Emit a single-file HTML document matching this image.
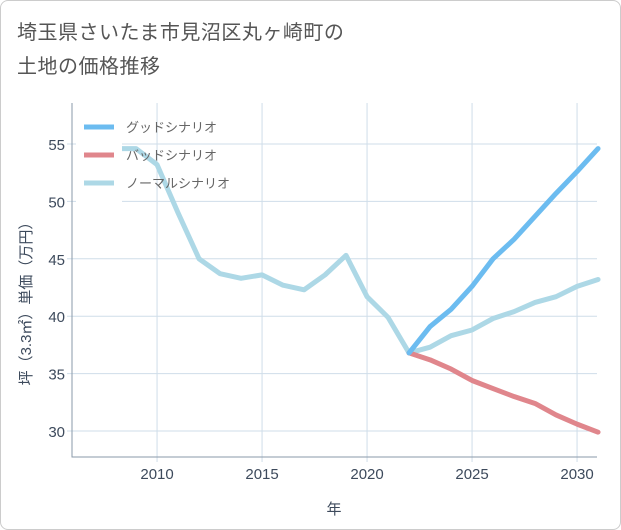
<!DOCTYPE html>
<html><head><meta charset="utf-8"><style>
body{margin:0;background:#fff;font-family:"Liberation Sans","Noto Sans CJK JP",sans-serif}
#frame{position:absolute;left:0;top:0;width:619px;height:528px;border:1px solid #ccc;border-radius:8px;background:#fff}
#title{position:absolute;left:17px;top:16px;font-size:20px;line-height:34px;color:#555;letter-spacing:0.5px}
</style></head><body>
<div id="frame"></div>
<div id="title">埼玉県さいたま市見沼区丸ヶ崎町の<br>土地の価格推移</div>
<svg id="chart" width="621" height="530" style="position:absolute;left:0;top:0"></svg>
<script>
const years=[2008,2009,2010,2011,2012,2013,2014,2015,2016,2017,2018,2019,2020,2021,2022,2023,2024,2025,2026,2027,2028,2029,2030,2031];
const normalVals=[54.6,54.6,53.2,49,45,43.7,43.3,43.6,42.7,42.3,43.6,45.3,41.7,39.9,36.8,37.3,38.3,38.8,39.8,40.4,41.2,41.7,42.6,43.2];
const futureYears=[2022,2023,2024,2025,2026,2027,2028,2029,2030,2031];
const goodVals=[36.8,39.1,40.6,42.6,45.0,46.7,48.7,50.7,52.6,54.6];
const badVals=[36.8,36.2,35.4,34.4,33.7,33.0,32.4,31.4,30.6,29.9];
const xTicks=[2010,2015,2020,2025,2030];
const yTicks=[30,35,40,45,50,55];
const legendLabels=["グッドシナリオ","バッドシナリオ","ノーマルシナリオ"];
const L=72,R=597,T=103,B=457;
const x=v=>L+(v-2005.95)*21;
const y=v=>144+(55-v)*11.48;
const svg=document.getElementById('chart');
const NS='http://www.w3.org/2000/svg';
const tickCol='#3d4a5c',gridCol='#cfdde9';
function mk(tag,attrs){const e=document.createElementNS(NS,tag);for(const k in attrs)e.setAttribute(k,attrs[k]);svg.appendChild(e);return e;}
xTicks.forEach(t=>{
 const g=mk('line',{x1:x(t),x2:x(t),y1:T,y2:B+5,stroke:gridCol,'stroke-width':1});
 
 
 const tx=mk('text',{x:x(t),y:479,'text-anchor':'middle','font-size':15,fill:tickCol});
 tx.textContent=t;
 
 
});
yTicks.forEach(t=>{
 const g=mk('line',{x1:L-5,x2:R,y1:y(t),y2:y(t),stroke:gridCol,'stroke-width':1});
 
 
 const tx=mk('text',{x:65,y:y(t)+6,'text-anchor':'end','font-size':15,fill:tickCol});
 tx.textContent=t;
 
 
});
const ax=mk('path',{d:`M${L} ${T}V${B}H${R}`,fill:'none',stroke:'#8a9aaa','stroke-width':1});


function line(xs,vs,color,name){
 const p=mk('polyline',{points:xs.map((v,i)=>x(v)+','+y(vs[i])).join(' '),fill:'none',stroke:color,'stroke-width':5,'stroke-linejoin':'round','stroke-linecap':'round'});
 
 
}
line(years,normalVals,'#add8e6','normal-line');
line(futureYears,badVals,'#e0868c','bad-line');
line(futureYears,goodVals,'#6cbcf0','good-line');
const lb=mk('rect',{x:76,y:110,width:46,height:94,fill:'#fff'});


const lc=['#6cbcf0','#e0868c','#add8e6'];
legendLabels.forEach((s,i)=>{
 const yy=127+i*28;
 const l=mk('line',{x1:84,x2:114,y1:yy,y2:yy,stroke:lc[i],'stroke-width':5});
 
 
 const t=mk('text',{x:126,y:yy+5,'font-size':13,fill:'#666'});
 t.textContent=s;
 
 
});
const xt=mk('text',{x:334,y:514,'text-anchor':'middle','font-size':15,fill:tickCol});
xt.textContent='年';


const yt=mk('text',{x:0,y:0,'text-anchor':'middle','font-size':15,fill:tickCol,transform:'translate(31,300) rotate(-90)'});
yt.textContent='坪（3.3㎡）単価（万円）';


</script>
</body></html>
